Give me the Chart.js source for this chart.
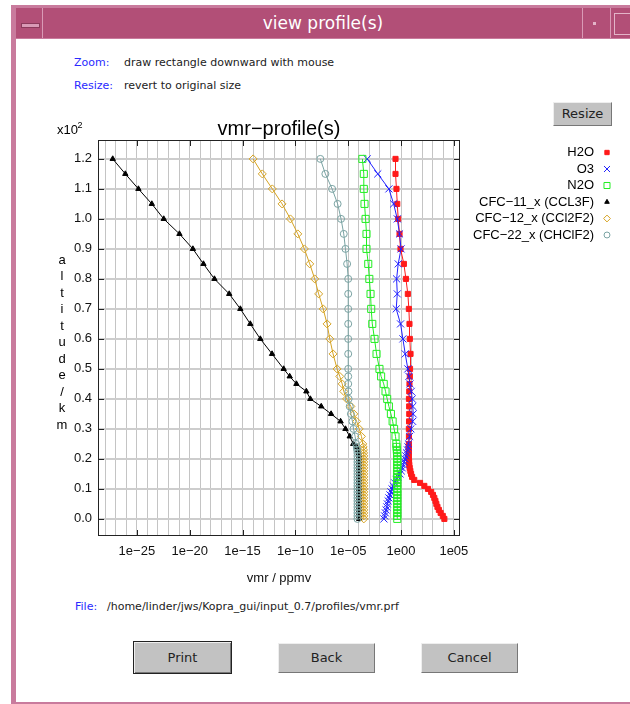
<!DOCTYPE html>
<html>
<head>
<meta charset="utf-8">
<title>view profile(s)</title>
<script src="https://cdn.jsdelivr.net/npm/chart.js@4.4.1/dist/chart.umd.min.js"></script>
<style>
  body { margin: 0; width: 630px; height: 704px; overflow: hidden; background: #fff; position: relative; font-family: "DejaVu Sans", sans-serif; }
  .abs { position: absolute; }
  #frame { left: 11px; top: 5px; right: 0; bottom: 0; background: #c97b9d; }
  #titlebar { left: 16px; top: 8px; width: 614px; height: 30px; background: #b24f77; color: #fff; font-size: 17px; line-height: 30px; text-align: center; }
  #content { left: 16px; top: 39px; width: 614px; height: 663px; background: #fff; }
  .sep { top: 8px; width: 1px; height: 30px; background: #d99ab6; }
  .hint { font-size: 11px; color: #222; }
  .key { color: #2a2aff; }
  .btn { background: #c2c2c2; border: 1px solid; border-color: #eee #777 #777 #eee; font-size: 13px; color: #222; text-align: center; box-sizing: border-box; }
</style>
</head>
<body>
<div id="frame" class="abs"></div>
<div id="titlebar" class="abs">view profile(s)</div>
<div class="abs sep" style="left:42px"></div>
<div class="abs" style="left:21px; top:23px; width:17px; height:3px; background:#d99ab6; border:1px solid #8c3a5c;"></div>
<div class="abs sep" style="left:582px"></div>
<div class="abs" style="left:593px; top:22px; width:3px; height:3px; background:#e3b4c8;"></div>
<div class="abs sep" style="left:610px"></div>
<div class="abs" style="left:614px; top:13px; width:16px; height:20px; border:1px solid #e3b4c8; border-right:none;"></div>
<div id="content" class="abs"></div>

<div class="abs hint" style="left:74px; top:56px;"><span class="key">Zoom:</span></div>
<div class="abs hint" style="left:124px; top:56px;">draw rectangle downward with mouse</div>
<div class="abs hint" style="left:74px; top:79px;"><span class="key">Resize:</span></div>
<div class="abs hint" style="left:124px; top:79px;">revert to original size</div>

<div class="abs btn" style="left:553px; top:102px; width:59px; height:24px; line-height:22px;">Resize</div>

<div class="abs" style="left:0; top:95px; width:630px; height:491px;"><canvas id="profileChart"></canvas></div>

<div class="abs hint" style="left:75px; top:600px;"><span class="key">File:</span></div>
<div class="abs hint" style="left:107px; top:600px;">/home/linder/jws/Kopra_gui/input_0.7/profiles/vmr.prf</div>

<div class="abs btn" style="left:133px; top:641px; width:99px; height:33px; line-height:31px; border:1px solid #222; box-shadow: inset 1px 1px 0 #eee, inset -1px -1px 0 #777;">Print</div>
<div class="abs btn" style="left:278px; top:643px; width:97px; height:30px; line-height:28px;">Back</div>
<div class="abs btn" style="left:421px; top:643px; width:97px; height:30px; line-height:28px;">Cancel</div>

<div class="abs" style="left:11px; top:702px; width:619px; height:2px; background:#c97b9d;"></div>

<script>
// altitude levels (km)
var altitude = [0, 1, 2, 3, 4, 5, 6, 7, 8, 9, 10, 11, 12, 13, 14, 15, 16, 17, 18, 19, 20, 21, 22, 23, 24, 25,
  27.5, 30, 32.5, 35, 37.5, 40, 42.5, 45, 47.5, 50,
  55, 60, 65, 70, 75, 80, 85, 90, 95, 100, 105, 110, 115, 120];

// vmr in ppmv, one value per altitude level
var h2o = [1.26e4, 8.9e3, 5.6e3, 3.8e3, 2.8e3, 2.2e3, 1.8e3, 1.4e3, 1.05e3, 710, 355, 160, 63, 17.8, 11.2, 8.9, 7.6, 6.6, 6.0, 5.75, 5.5, 5.4, 5.5, 5.4, 5.5, 5.5,
  5.6, 5.5, 5.75, 6.0, 5.9, 5.6, 6.0, 6.3, 6.8, 7.1,
  7.9, 6.8, 6.3, 5.5, 4.4, 2.9, 1.86, 0.89, 0.72, 0.54, 0.44, 0.37, 0.30, 0.30];
var o3 = [0.024, 0.028, 0.033, 0.038, 0.045, 0.05, 0.06, 0.071, 0.089, 0.11, 0.14, 0.18, 0.25, 0.35, 0.5, 0.8, 1.05, 1.3, 1.66, 2.0, 2.4, 2.8, 3.3, 4.0, 4.5, 5.0,
  6.5, 8.5, 12.6, 14, 13, 11.5, 9.3, 7.1, 5.6, 4.4,
  2.5, 1.5, 0.9, 0.35, 0.44, 0.38, 0.54, 1.0, 0.72, 0.44, 0.2, 0.071, 0.0063, 6.3e-4];
var n2o = [0.44, 0.44, 0.44, 0.44, 0.44, 0.44, 0.44, 0.44, 0.44, 0.44, 0.44, 0.44, 0.44, 0.44, 0.44, 0.44, 0.44, 0.44, 0.44, 0.44, 0.44, 0.43, 0.42, 0.40, 0.38, 0.36,
  0.30, 0.22, 0.16, 0.11, 0.071, 0.049, 0.034, 0.023, 0.013, 0.0091,
  0.0048, 0.0031, 0.0019, 0.0015, 0.0013, 0.001, 7.9e-4, 5.4e-4, 5.4e-4, 4.4e-4, 3.5e-4, 3.0e-4, 3.0e-4, 2.2e-4];
var cfc11 = [1.1e-4, 1.1e-4, 1.1e-4, 1.1e-4, 1.1e-4, 1.1e-4, 1.1e-4, 1.1e-4, 1.1e-4, 1.1e-4, 1.1e-4, 1.1e-4, 1.1e-4, 1.1e-4, 1.1e-4, 1.1e-4, 1.1e-4, 1.1e-4, 1.1e-4, 1.1e-4, 1.1e-4, 1.1e-4, 1.0e-4, 9.0e-5, 6.3e-5, 3.0e-5,
  1.4e-5, 5.5e-6, 1.9e-6, 2.4e-7, 2.8e-8, 2.6e-9, 1.1e-9, 1.26e-10, 2.9e-11, 7.8e-12,
  6.2e-13, 4.8e-14, 5.4e-15, 6.2e-16, 5.5e-17, 2.2e-18, 2.0e-19, 2.0e-20, 1.07e-21, 3.5e-23, 2.6e-24, 1.4e-25, 8.1e-27, 5.2e-28];
var cfc12 = [3.0e-4, 3.0e-4, 3.0e-4, 3.0e-4, 3.0e-4, 3.0e-4, 3.0e-4, 3.0e-4, 3.0e-4, 3.0e-4, 3.0e-4, 3.0e-4, 3.0e-4, 3.0e-4, 3.0e-4, 3.0e-4, 3.0e-4, 3.0e-4, 3.0e-4, 3.0e-4, 3.0e-4, 3.0e-4, 2.9e-4, 2.8e-4, 2.6e-4, 2.4e-4,
  1.8e-4, 1.1e-4, 6.3e-5, 3.4e-5, 1.8e-5, 7.0e-6, 3.8e-6, 2.7e-6, 1.6e-6, 8.9e-7,
  3.7e-7, 1.8e-7, 1.0e-7, 4.3e-8, 1.6e-8, 6.8e-9, 2.3e-9, 7.1e-10, 1.7e-10, 3.4e-11, 5.5e-12, 6.6e-13, 7.4e-14, 1.0e-14];
var cfc22 = [7.5e-5, 7.5e-5, 7.5e-5, 7.5e-5, 7.5e-5, 7.5e-5, 7.5e-5, 7.5e-5, 7.5e-5, 7.5e-5, 7.5e-5, 7.5e-5, 7.5e-5, 7.5e-5, 7.5e-5, 7.5e-5, 7.5e-5, 7.5e-5, 7.5e-5, 7.5e-5, 7.5e-5, 7.5e-5, 7.5e-5, 7.0e-5, 6.5e-5, 5.6e-5,
  4.5e-5, 3.2e-5, 2.5e-5, 1.8e-5, 1.4e-5, 1.1e-5, 1.05e-5, 1.0e-5, 1.0e-5, 1.0e-5,
  1.0e-5, 1.0e-5, 1.0e-5, 1.0e-5, 1.0e-5, 1.0e-5, 7.9e-6, 5.5e-6, 3.8e-6, 2.1e-6, 1.0e-6, 3.0e-7, 6.9e-8, 2.3e-8];

var seriesNames = ['H2O', 'O3', 'N2O', 'CFC\u221211_x (CCL3F)', 'CFC\u221212_x (CCl2F2)', 'CFC\u221222_x (CHClF2)'];

// axis ticks
var yTicks = [0, 10, 20, 30, 40, 50, 60, 70, 80, 90, 100, 110, 120];
var yTickLabels = ['0.0', '0.1', '0.2', '0.3', '0.4', '0.5', '0.6', '0.7', '0.8', '0.9', '1.0', '1.1', '1.2'];
var xLabelExps = [-25, -20, -15, -10, -5, 0, 5];
var xTickLabels = ['1e\u221225', '1e\u221220', '1e\u221215', '1e\u221210', '1e\u221205', '1e00', '1e05'];

var chartTitle = 'vmr\u2212profile(s)';
var yTitle = 'altitude/km';

function profile(values) {
  return altitude.map(function (a, i) { return { x: values[i], y: a }; });
}

// later series are painted over earlier ones, as in the original plot
function makeSet(idx, values, color, style, radius, fill) {
  return {
    label: seriesNames[idx],
    order: -idx,
    data: profile(values),
    borderColor: color,
    backgroundColor: color,
    borderWidth: 1,
    pointStyle: style,
    pointRadius: radius,
    pointBorderColor: color,
    pointBackgroundColor: fill,
    pointBorderWidth: 1,
    tension: 0
  };
}

// draws frame, inner tick marks, title, stacked y title and the legend
var profileDecor = {
  id: 'profileDecor',
  afterDraw: function (chart) {
    var ctx = chart.ctx, a = chart.chartArea, sx = chart.scales.x, sy = chart.scales.y;
    ctx.save();
    ctx.strokeStyle = '#222';
    ctx.lineWidth = 1;
    ctx.strokeRect(a.left + 0.5, a.top + 0.5, a.right - a.left - 1, a.bottom - a.top - 1);

    ctx.beginPath();
    yTicks.forEach(function (v) {
      var y = Math.round(sy.getPixelForValue(v)) + 0.5;
      ctx.moveTo(a.left, y); ctx.lineTo(a.left + 6, y);
      ctx.moveTo(a.right - 6, y); ctx.lineTo(a.right, y);
    });
    xLabelExps.forEach(function (e) {
      var x = Math.round(sx.getPixelForValue(Math.pow(10, e))) + 0.5;
      ctx.moveTo(x, a.bottom); ctx.lineTo(x, a.bottom - 6);
      ctx.moveTo(x, a.top); ctx.lineTo(x, a.top + 6);
    });
    ctx.stroke();

    ctx.fillStyle = '#000';
    ctx.textAlign = 'center';
    ctx.textBaseline = 'alphabetic';
    ctx.font = '20px "Liberation Sans", Arial, sans-serif';
    ctx.fillText(chartTitle, (a.left + a.right) / 2, a.top - 5);

    // x10^2 multiplier
    ctx.textAlign = 'left';
    ctx.font = '13px "Liberation Sans", Arial, sans-serif';
    ctx.fillText('x10', 57, 39);
    ctx.font = '9px "Liberation Sans", Arial, sans-serif';
    ctx.fillText('2', 77.5, 33);

    // stacked y axis title
    ctx.textAlign = 'center';
    ctx.textBaseline = 'middle';
    ctx.font = '13px "Liberation Sans", Arial, sans-serif';
    yTitle.split('').forEach(function (ch, i) {
      ctx.fillText(ch, 62, 165 + i * 16.5);
    });

    // legend, text right aligned with marker on the right
    var drawPoint = Chart.helpers && Chart.helpers.drawPoint;
    chart.data.datasets.forEach(function (ds, i) {
      var y = 57.5 + i * 16.5;
      ctx.textAlign = 'right';
      ctx.fillStyle = '#000';
      ctx.fillText(ds.label, 594, y);
      ctx.fillStyle = ds.pointBackgroundColor;
      ctx.strokeStyle = ds.pointBorderColor;
      ctx.lineWidth = 1;
      if (drawPoint) {
        drawPoint(ctx, { pointStyle: ds.pointStyle, radius: ds.pointRadius * 0.85, borderWidth: 1, rotation: 0 }, 607, y);
      }
    });
    ctx.restore();
  }
};

var font = '"Liberation Sans", Arial, sans-serif';
Chart.defaults.font.family = font;
Chart.defaults.color = '#111';

var profileChart = new Chart(document.getElementById('profileChart'), {
  type: 'line',
  data: {
    datasets: [
      makeSet(0, h2o, '#ff1a1a', 'rect', 3.6, '#ff1a1a'),
      makeSet(1, o3, '#2020ff', 'crossRot', 5, '#2020ff'),
      makeSet(2, n2o, '#22ee22', 'rect', 5, 'rgba(255,255,255,0)'),
      makeSet(3, cfc11, '#000000', 'triangle', 3.1, '#000000'),
      makeSet(4, cfc12, '#d6a322', 'rectRot', 4, 'rgba(255,255,255,0)'),
      makeSet(5, cfc22, '#7aa3a3', 'circle', 3.5, 'rgba(255,255,255,0)')
    ]
  },
  options: {
    responsive: true,
    maintainAspectRatio: false,
    animation: false,
    layout: { padding: { left: 0, top: 45, right: 170, bottom: 0 } },
    plugins: {
      legend: { display: false },
      tooltip: { enabled: false }
    },
    scales: {
      x: {
        type: 'logarithmic',
        min: 2.1e-29,
        max: 3.8e5,
        afterBuildTicks: function (scale) {
          var t = [];
          for (var e = -28; e <= 5; e++) t.push({ value: Math.pow(10, e) });
          scale.ticks = t;
        },
        afterFit: function (scale) { scale.height = 50; },
        ticks: {
          autoSkip: false,
          maxRotation: 0,
          padding: 8,
          font: { size: 13 },
          color: '#111',
          callback: function (value) {
            var k = xLabelExps.indexOf(Math.round(Math.log10(value)));
            return k >= 0 ? xTickLabels[k] : '';
          }
        },
        grid: { color: '#c4c4c4', lineWidth: 1, drawTicks: false },
        border: { display: false },
        title: { display: true, text: 'vmr / ppmv', font: { size: 13 }, color: '#111', padding: 0 }
      },
      y: {
        type: 'linear',
        min: -5.7,
        max: 126.3,
        afterBuildTicks: function (scale) {
          scale.ticks = yTicks.map(function (v) { return { value: v }; });
        },
        afterFit: function (scale) { scale.width = 98; },
        ticks: {
          padding: 6,
          font: { size: 13 },
          color: '#111',
          callback: function (value) {
            var k = yTicks.indexOf(value);
            return k >= 0 ? yTickLabels[k] : '';
          }
        },
        grid: { color: '#cdcdcd', lineWidth: 2, drawTicks: false },
        border: { display: false }
      }
    }
  },
  plugins: [profileDecor]
});
</script>
</body>
</html>
